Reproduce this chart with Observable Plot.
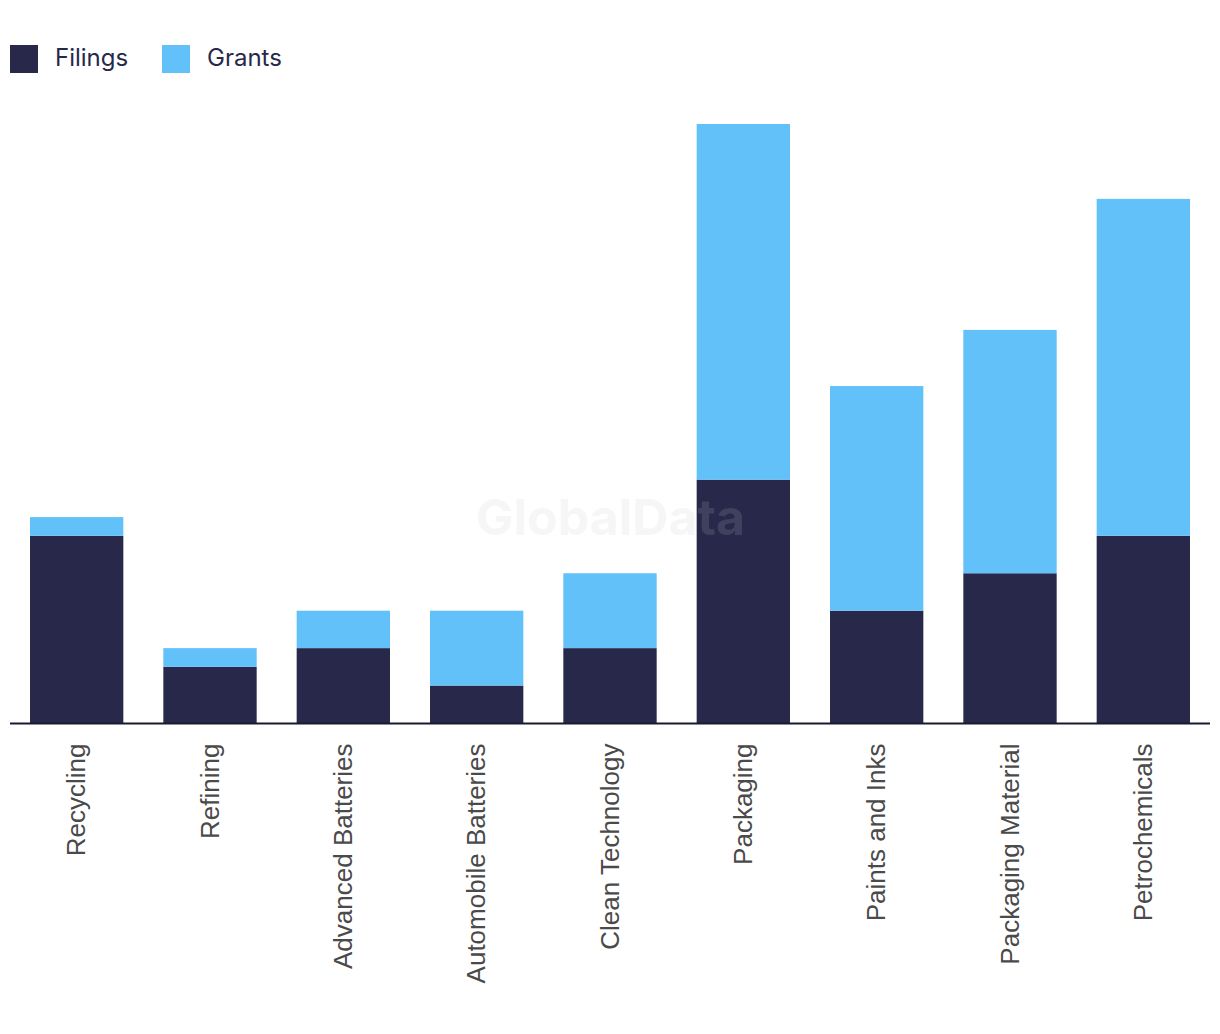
<!DOCTYPE html>
<html>
<head>
<meta charset="utf-8">
<script src="https://cdn.jsdelivr.net/npm/d3@7"></script>
<script src="https://cdn.jsdelivr.net/npm/@observablehq/plot@0.6"></script>
<style>
  body { margin: 0; background: #fff; }
  #legend { height: 100px; position: relative; font-family: Inter, "Noto Sans", sans-serif; font-size: 24px; color: #27284a; }
  .item { position: absolute; top: 45px; height: 28px; display: flex; align-items: center; }
  .sw { width: 28px; height: 28px; margin-right: 17px; flex: none; }
  .lbl { position: relative; top: -2px; }
</style>
</head>
<body>
<div id="legend">
  <div class="item" style="left:10px"><div class="sw" style="background:#27284a"></div><span class="lbl">Filings</span></div>
  <div class="item" style="left:162px"><div class="sw" style="background:#62c1f9"></div><span class="lbl">Grants</span></div>
</div>
<div id="chart"></div>
<script>
const categories = ["Recycling", "Refining", "Advanced Batteries", "Automobile Batteries", "Clean Technology", "Packaging", "Paints and Inks", "Packaging Material", "Petrochemicals"];
const filings = [10, 3, 4, 2, 4, 13, 6, 8, 10];
const grants = [1, 1, 2, 4, 4, 19, 12, 13, 18];
const seriesNames = ["Filings", "Grants"];
const seriesColors = ["#27284a", "#62c1f9"];

const data = [];
categories.forEach((c, i) => data.push({category: c, series: "Filings", value: filings[i]}));
categories.forEach((c, i) => data.push({category: c, series: "Grants", value: grants[i]}));

const chart = Plot.plot({
  width: 1220,
  height: 934,
  marginLeft: 10,
  marginRight: 10,
  marginTop: 24,
  marginBottom: 311,
  style: {fontFamily: "'Liberation Sans', Arial, sans-serif", background: "#fff"},
  x: {domain: categories, paddingInner: 0.3, paddingOuter: 0.15, round: false, label: null},
  y: {domain: [0, 32], axis: null},
  color: {domain: seriesNames, range: seriesColors},
  marks: [
    Plot.barY(data, {x: "category", y: "value", fill: "series", order: seriesNames}),
    Plot.ruleY([0], {stroke: "#1a1a2e", strokeWidth: 2}),
    Plot.axisX({tickSize: 0, tickPadding: 20, tickRotate: -90, fontSize: 26, fill: "#4a4a4a", label: null}),
    Plot.text(["GlobalData"], {frameAnchor: "middle", dy: 95, fontSize: 50, fontWeight: "bold", fill: "#c8c8c8", fillOpacity: 0.16, fontFamily: "Inter, 'Liberation Sans', sans-serif"})
  ]
});
document.getElementById("chart").appendChild(chart);
</script>
</body>
</html>
